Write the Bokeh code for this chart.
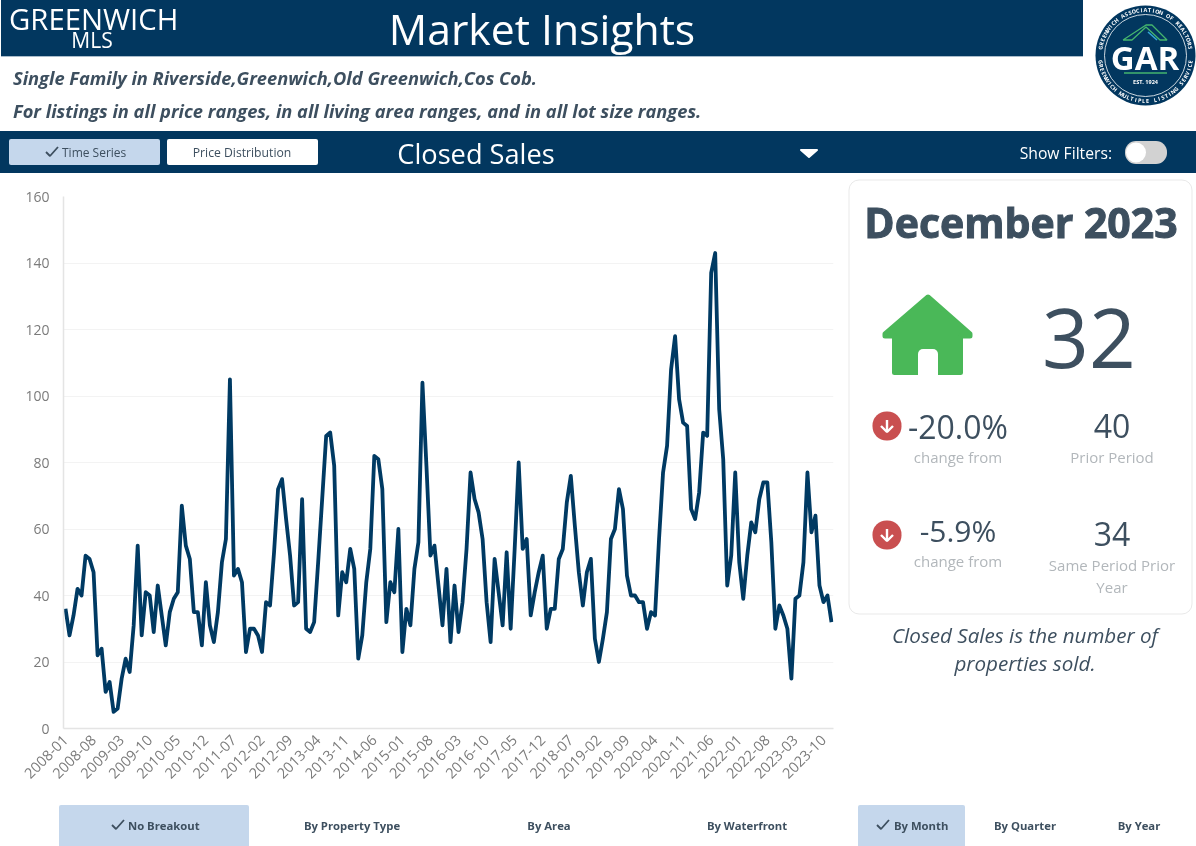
import math
from bokeh.core.properties import value
from bokeh.embed import file_html
from bokeh.models import FixedTicker, Range1d
from bokeh.plotting import figure
from bokeh.resources import INLINE

closed_sales = [
    36, 28, 34, 42, 40, 52, 51, 47, 22, 24, 11, 14,
    5, 6, 15, 21, 17, 31, 55, 28, 41, 40, 29, 43,
    34, 25, 35, 39, 41, 67, 55, 51, 35, 35, 25, 44,
    31, 26, 35, 50, 57, 105, 46, 48, 44, 23, 30, 30,
    28, 23, 38, 37, 53, 72, 75, 63, 52, 37, 38, 69,
    30, 29, 32, 50, 69, 88, 89, 79, 34, 47, 44, 54,
    48, 21, 28, 44, 54, 82, 81, 72, 32, 44, 41, 60,
    23, 36, 31, 48, 56, 104, 79, 52, 55, 43, 31, 48,
    26, 43, 29, 38, 54, 77, 69, 65, 57, 38, 26, 51,
    41, 31, 53, 30, 54, 80, 54, 57, 34, 41, 47, 52,
    30, 36, 36, 51, 54, 68, 76, 61, 47, 37, 47, 51,
    27, 20, 27, 35, 57, 60, 72, 66, 46, 40, 40, 38,
    38, 30, 35, 34, 57, 77, 85, 108, 118, 99, 92, 91,
    66, 63, 71, 89, 88, 137, 143, 96, 81, 43, 52, 77,
    50, 39, 52, 62, 59, 69, 74, 74, 56, 30, 37, 34,
    30, 15, 39, 40, 50, 77, 59, 64, 43, 38, 40, 32,
]
months = [f"{y}-{m:02d}" for y in range(2008, 2024) for m in range(1, 13)]
x_tick_step = 7
y_ticks = [0, 20, 40, 60, 80, 100, 120, 140, 160]

NAVY = "#02375f"
LINE = "#003a63"
INK = "#3d4f5f"
PALE = "#c5d7ec"
GREEN = "#4ab858"
RED = "#c94f50"
MUTED = "#b2b7bb"

x_idx = list(range(len(closed_sales)))
p = figure(
    width=1197, height=847, output_backend="svg", toolbar_location=None, tools="",
    x_range=Range1d(-0.5, 191.5), y_range=Range1d(0, 160),
    frame_width=770, frame_height=532,
    min_border_left=64, min_border_right=363, min_border_top=197, min_border_bottom=118,
    outline_line_color=None, background_fill_color="white", border_fill_color="white",
    styles={"position": "fixed", "left": "-1px", "top": "-1px"},
)
p.extra_x_ranges["px"] = Range1d(63.5, 833.5)
p.extra_y_ranges["px"] = Range1d(728.5, 196.5)

ticks = x_idx[::x_tick_step]
p.xaxis.ticker = FixedTicker(ticks=ticks)
p.xaxis.major_label_overrides = {i: months[i] for i in ticks}
p.xaxis.major_label_orientation = math.pi / 4
p.yaxis.ticker = FixedTicker(ticks=y_ticks)
for ax in (p.xaxis[0], p.yaxis[0]):
    ax.major_tick_line_color = None
    ax.minor_tick_line_color = None
    ax.axis_line_color = "#e4e4e4"
    ax.axis_line_width = 1.5
    ax.major_label_text_font = "Open Sans"
    ax.major_label_text_color = "#7b7b7b"
    ax.major_label_text_font_size = "14px"
p.xaxis.major_label_text_font_size = "14.5px"
p.xaxis.major_label_standoff = 3
p.yaxis.major_label_standoff = 8
p.xgrid.visible = False
p.ygrid.ticker = FixedTicker(ticks=y_ticks)
p.ygrid.grid_line_color = "#f3f3f3"

p.line(x_idx, closed_sales, line_color=LINE, line_width=3.8, line_join="round")

PX = dict(x_range_name="px", y_range_name="px", level="overlay")


def box(x0, y0, x1, y1, fill, radius=0, line=None, line_width=1):
    p.quad(left=[x0], right=[x1], top=[y0], bottom=[y1], fill_color=fill,
           line_color=line, line_width=line_width, border_radius=radius, **PX)


def dot(cx, cy, r, fill, line=None, line_width=1):
    box(cx - r, cy - r, cx + r, cy + r, fill, int(r), line, line_width)


def txt(x, y, s, size, color=INK, align="center", style="normal", font="Open Sans", angle=0, outline=None):
    p.text([x], [y], text=[s], text_font=value(font), text_font_size=f"{size}px",
           text_color=color, text_align=align, text_baseline="middle",
           text_font_style=style, angle=[angle], text_outline_color=outline, **PX)


def check(x, y, color=INK):
    p.line([x, x + 4, x + 12], [y, y + 4, y - 5], line_color=color, line_width=1.8, **PX)


# header
box(1, 0, 1083, 56, NAVY)
p.line([1, 1083], [56.5, 56.5], line_color="#a9bccb", line_width=1, **PX)
txt(9, 19, "GREENWICH", 29.3, "white", "left")
txt(92, 40, "MLS", 21, "white")
txt(542, 28, "Market Insights", 42.7, "white")
txt(13, 77, "Single Family in Riverside,Greenwich,Old Greenwich,Cos Cob.", 18.25, INK, "left", "bold italic")
txt(13, 110, "For listings in all price ranges, in all living area ranges, and in all lot size ranges.", 18.25, INK, "left", "bold italic")

# logo
dot(1145.5, 55.5, 50, NAVY)
dot(1145.5, 55.5, 41, None, "white", 0.8)
txt(1145, 57, "GAR", 33, "white", style="bold")
p.line([1123, 1146, 1152, 1167, 1160, 1146, 1132, 1123],
       [40, 25, 25, 40, 40, 27, 40, 40], line_color="#45b66e", line_width=1.3, **PX)
p.line([1148, 1157], [32, 40], line_color="#35a8d8", line_width=1.5, **PX)
p.line([1124, 1167], [73, 73], line_color="#45b66e", line_width=1.5, **PX)
txt(1145.5, 82, "EST. 1924", 5.5, "white", style="bold")


def ring(s, start_deg, end_deg, radius, upper):
    n = len(s)
    for i, ch in enumerate(s):
        a = math.radians(start_deg + (end_deg - start_deg) * i / (n - 1))
        x = 1145.5 + radius * math.cos(a)
        y = 55.5 - radius * math.sin(a)
        rot = a - math.pi / 2 if upper else a + math.pi / 2
        p.text([x], [y], text=[ch], text_font=value("Open Sans"), text_font_size="5.5px",
               text_color="white", text_align="center", text_baseline="middle",
               text_font_style="bold", angle=[rot], **PX)


ring("GREENWICH ASSOCIATION OF REALTORS", 170, 10, 45.5, True)
ring("GREENWICH MULTIPLE LISTING SERVICE", 188, 352, 45.5, False)

# control bar
box(0, 131, 1197, 173, NAVY)
box(9, 139, 160, 165, PALE, 2)
box(167, 139, 318, 165, "white", 2)
check(46, 152)
txt(62, 152, "Time Series", 12, INK, "left")
txt(242, 152, "Price Distribution", 12.2, INK)
txt(476, 153, "Closed Sales", 27.2, "white")
p.patch([801, 817, 809], [150, 150, 157], fill_color="white", line_color="white",
        line_width=2, line_join="round", **PX)
txt(1112, 153, "Show Filters:", 15.7, "white", "right")
box(1125, 141, 1167, 164, "#d2d2d2", 11)
dot(1136, 152.5, 10, "white")

# card
box(849, 180, 1192, 614, "white", 10, "#e9e9e9")
txt(1021, 222, "December 2023", 41, INK, style="bold", outline=INK)
p.patch([928, 970, 970, 960.5, 960.5, 894.5, 894.5, 885, 885],
        [297, 334, 336, 336, 372.5, 372.5, 336, 336, 334],
        fill_color=GREEN, line_color=GREEN, line_width=5, line_join="round", **PX)
box(918, 349, 938, 376, "white", (5, 5, 0, 0))
txt(1089, 338, "32", 82)
for cy in (426, 535):
    dot(887, cy, 14.5, RED)
    p.line([887, 887], [cy - 6, cy + 6], line_color="white", line_width=2.4, **PX)
    p.line([881, 887, 893], [cy, cy + 6, cy], line_color="white", line_width=2.4, **PX)
txt(958, 426, "-20.0%", 32)
txt(1112, 426, "40", 32)
txt(958, 457, "change from", 15, MUTED)
txt(1112, 457, "Prior Period", 15, MUTED)
txt(958, 530, "-5.9%", 30)
txt(1112, 534, "34", 32)
txt(958, 561, "change from", 15, MUTED)
txt(1112, 565, "Same Period Prior", 15, MUTED)
txt(1112, 587, "Year", 15, MUTED)
txt(1025, 635, "Closed Sales is the number of", 20.6, INK, style="italic")
txt(1025, 663, "properties sold.", 20.6, INK, style="italic")

# bottom buttons
box(59, 805, 249, 848, PALE, 2)
check(112, 825)
txt(128, 825.5, "No Breakout", 11.3, INK, "left", "bold")
txt(352, 825.5, "By Property Type", 11.3, INK, style="bold")
txt(549, 825.5, "By Area", 11.3, INK, style="bold")
txt(747, 825.5, "By Waterfront", 11.3, INK, style="bold")
box(858, 805, 965, 848, PALE, 2)
check(877, 825)
txt(894, 825.5, "By Month", 11.3, INK, "left", "bold")
txt(1025, 825.5, "By Quarter", 11.3, INK, style="bold")
txt(1139, 825.5, "By Year", 11.3, INK, style="bold")

open("out.html", "w").write(file_html(p, INLINE))
